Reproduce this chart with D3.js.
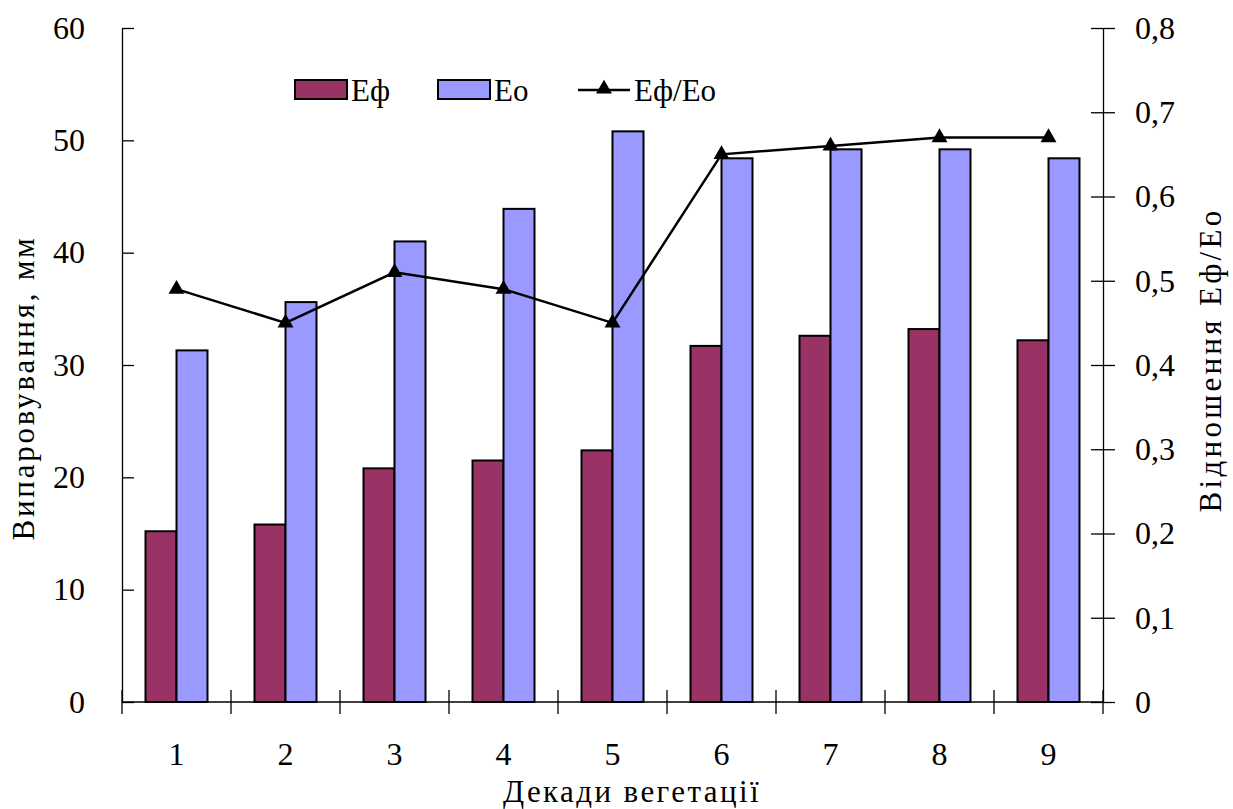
<!DOCTYPE html>
<html>
<head>
<meta charset="utf-8">
<script src="https://cdn.jsdelivr.net/npm/d3@7"></script>
</head>
<body style="margin:0;background:#fff">
<svg id="chart" width="1233" height="809"></svg>
<script>
// data
var decades = ["1", "2", "3", "4", "5", "6", "7", "8", "9"]
var eFact = [15.2, 15.8, 20.8, 21.5, 22.4, 31.7, 32.6, 33.2, 32.2]
var ePot = [31.3, 35.6, 41.0, 43.9, 50.8, 48.4, 49.2, 49.2, 48.4]
var ratio = [0.49, 0.45, 0.51, 0.49, 0.45, 0.65, 0.66, 0.67, 0.67]
var leftTicks = [0, 10, 20, 30, 40, 50, 60]
var rightTicks = [0, 0.1, 0.2, 0.3, 0.4, 0.5, 0.6, 0.7, 0.8]

var cFact = "#993366", cPot = "#9999ff"
var serif = "Liberation Serif"
var cyrSize = 31   // cyrillic only stays serif at this size, so no textLength on it

var svg = d3.select("#chart")
var margin = {left: 122, right: 130, top: 28, bottom: 107}
var W = 1233, H = 809
var x0 = margin.left, x1 = W - margin.right
var y0 = H - margin.bottom, y1 = margin.top

var x = d3.scaleBand().domain(decades).range([x0, x1])
var yL = d3.scaleLinear().domain([0, 60]).range([y0, y1])
var yR = d3.scaleLinear().domain([0, 0.8]).range([y0, y1])
var barW = 31

var fmt = d => d3.format(".1f")(d).replace(".", ",")

// plain cyrillic text, stretched with letter-spacing instead of textLength
var label = (x, y, rot, s, target, anchor) => {
    var t = svg.append("text")
        .attr("font-family", serif).attr("font-size", cyrSize)
        .attr("text-anchor", anchor || "middle")
        .attr("transform", `translate(${x},${y})` + (rot ? ` rotate(${rot})` : ""))
        .text(s)
    if (target) {
        var len = t.node().getComputedTextLength()
        var sp = (target - len) / s.length
        if (sp > 0) t.attr("letter-spacing", sp.toFixed(2))
    }
    return t
}

// bars
var g = svg.append("g")
g.selectAll(".bf").data(eFact).enter().append("rect")
  .attr("x", (d, i) => x(decades[i]) + x.bandwidth() / 2 - barW)
  .attr("y", d => yL(d))
  .attr("width", barW).attr("height", d => y0 - yL(d))
  .attr("fill", cFact).attr("stroke", "#000").attr("stroke-width", 2)
g.selectAll(".bp").data(ePot).enter().append("rect")
  .attr("x", (d, i) => x(decades[i]) + x.bandwidth() / 2)
  .attr("y", d => yL(d))
  .attr("width", barW).attr("height", d => y0 - yL(d))
  .attr("fill", cPot).attr("stroke", "#000").attr("stroke-width", 2)

// left axis
var axL = svg.append("g").attr("transform", `translate(${x0},0)`)
  .call(d3.axisLeft(yL).tickValues(leftTicks).tickSizeInner(12).tickSizeOuter(0).tickPadding(25))
axL.attr("font-family", serif).attr("font-size", 32)
axL.selectAll(".tick line").attr("x2", 12)
axL.selectAll("line, path").attr("stroke", "#000").attr("stroke-width", 1.3)

// right axis
var axR = svg.append("g").attr("transform", `translate(${x1},0)`)
  .call(d3.axisRight(yR).tickValues(rightTicks).tickFormat(d => d === 0 ? "0" : fmt(d))
    .tickSizeInner(12).tickSizeOuter(0).tickPadding(20))
axR.attr("font-family", serif).attr("font-size", 32)
axR.selectAll(".tick line").attr("x1", -12)
axR.selectAll("line, path").attr("stroke", "#000").attr("stroke-width", 1.3)

// bottom axis: ticks at band boundaries
svg.append("line").attr("x1", x0).attr("x2", x1).attr("y1", y0).attr("y2", y0)
  .attr("stroke", "#000").attr("stroke-width", 1.3)
var bounds = decades.map(d => x(d)).concat([x1])
svg.selectAll(".xb").data(bounds).enter().append("line")
  .attr("x1", d => d).attr("x2", d => d)
  .attr("y1", y0 - 12).attr("y2", y0 + 12)
  .attr("stroke", "#000").attr("stroke-width", 1.3)
svg.selectAll(".xl").data(decades).enter().append("text")
  .attr("font-family", serif)
  .attr("x", d => x(d) + x.bandwidth() / 2).attr("y", 765)
  .attr("text-anchor", "middle").attr("font-size", 32).text(d => d)

// ratio line
var line = d3.line().x((d, i) => x(decades[i]) + x.bandwidth() / 2).y(d => yR(d))
svg.append("path").datum(ratio).attr("d", line)
  .attr("fill", "none").attr("stroke", "#000").attr("stroke-width", 2.5)
var tri = d3.symbol().type(d3.symbolTriangle).size(110)
svg.selectAll(".pt").data(ratio).enter().append("path")
  .attr("d", tri)
  .attr("transform", (d, i) => `translate(${x(decades[i]) + x.bandwidth() / 2},${yR(d)})`)
  .attr("fill", "#000")

// axis titles
label(34, 388, -90, "Випаровування, мм", 305)
label(1221, 360, -90, "Відношення Еф/Ео", 305)
label(632, 802, 0, "Декади вегетації", 258)

// legend
svg.append("rect").attr("x", 295).attr("y", 80).attr("width", 52).attr("height", 19)
  .attr("fill", cFact).attr("stroke", "#000").attr("stroke-width", 2)
label(351, 101, 0, "Еф", 0, "start")
svg.append("rect").attr("x", 438).attr("y", 80).attr("width", 52).attr("height", 19)
  .attr("fill", cPot).attr("stroke", "#000").attr("stroke-width", 2)
label(494, 101, 0, "Ео", 0, "start")
svg.append("line").attr("x1", 578).attr("x2", 630).attr("y1", 90).attr("y2", 90)
  .attr("stroke", "#000").attr("stroke-width", 2.5)
svg.append("path").attr("d", tri).attr("transform", "translate(604,89)").attr("fill", "#000")
label(634, 101, 0, "Еф/Ео", 0, "start")
</script>
</body>
</html>
